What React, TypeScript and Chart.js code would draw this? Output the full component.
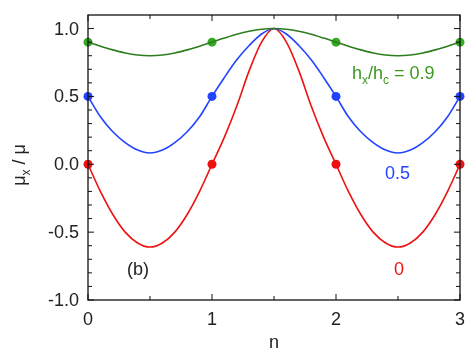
import React, { useEffect, useRef } from "react";
import { Chart, registerables } from "chart.js";

Chart.register(...registerables);

const nValues = [0, 0.1, 0.2, 0.3, 0.4, 0.5, 0.6, 0.7, 0.8, 0.9, 1.0, 1.1, 1.2, 1.3, 1.4, 1.5, 1.6, 1.7, 1.8, 1.9, 2.0, 2.1, 2.2, 2.3, 2.4, 2.5, 2.6, 2.7, 2.8, 2.9, 3.0];
const redValues = [0, -0.2, -0.37, -0.5, -0.58, -0.61, -0.58, -0.5, -0.37, -0.2, 0, 0.2, 0.43, 0.69, 0.9, 1.0, 0.9, 0.69, 0.43, 0.2, 0, -0.2, -0.37, -0.5, -0.58, -0.61, -0.58, -0.5, -0.37, -0.2, 0];
const blueValues = [0.5, 0.35, 0.24, 0.16, 0.105, 0.083, 0.105, 0.16, 0.24, 0.35, 0.5, 0.64, 0.77, 0.875, 0.96, 1.0, 0.96, 0.875, 0.77, 0.64, 0.5, 0.35, 0.24, 0.16, 0.105, 0.083, 0.105, 0.16, 0.24, 0.35, 0.5];
const greenValues = [0.9, 0.87, 0.843, 0.82, 0.805, 0.8, 0.805, 0.82, 0.843, 0.87, 0.9, 0.93, 0.958, 0.98, 0.995, 1.0, 0.995, 0.98, 0.958, 0.93, 0.9, 0.87, 0.843, 0.82, 0.805, 0.8, 0.805, 0.82, 0.843, 0.87, 0.9];

const dotN = [0, 1, 2, 3];
const redDots = [0, 0, 0, 0];
const blueDots = [0.5, 0.5, 0.5, 0.5];
const greenDots = [0.9, 0.9, 0.9, 0.9];

const xTickLabels = [0, 1, 2, 3];
const xMinorTicks = [0.5, 1.5, 2.5];
const yTickLabels = [-1.0, -0.5, 0.0, 0.5, 1.0];
const yMinorTicks = [-0.9, -0.8, -0.7, -0.6, -0.4, -0.3, -0.2, -0.1, 0.1, 0.2, 0.3, 0.4, 0.6, 0.7, 0.8, 0.9];

const RED = "#ee1111";
const BLUE = "#2244ff";
const GREEN_LINE = "#2e7d1e";
const GREEN_DOT = "#33aa22";
const GREEN_TEXT = "#3a9a1e";
const FONT = "Liberation Sans, Arial, sans-serif";

const pts = (xs: number[], ys: number[]) => xs.map((x, i) => ({ x, y: ys[i] }));

export default function App() {
  const ref = useRef<HTMLCanvasElement | null>(null);
  useEffect(() => {
    const canvas = ref.current;
    if (!canvas) return;
    const lineDs = (label: string, ys: number[], color: string) => ({
      label,
      data: pts(nValues, ys),
      borderColor: color,
      backgroundColor: color,
      borderWidth: 1.6,
      pointRadius: 0,
      cubicInterpolationMode: "monotone" as const,
      showLine: true,
    });
    const dotDs = (label: string, ys: number[], color: string) => ({
      label,
      data: pts(dotN, ys),
      borderColor: color,
      backgroundColor: color,
      pointRadius: 4.5,
      pointBorderWidth: 0,
      showLine: false,
      clip: false as const,
    });

    const overlay = {
      id: "overlay",
      afterDraw(chart: any) {
        const ctx = chart.ctx;
        const xs = chart.scales.x;
        const ys = chart.scales.y;
        const { left, right, top, bottom } = chart.chartArea;
        ctx.save();
        ctx.strokeStyle = "#111";
        ctx.lineWidth = 1.3;
        ctx.strokeRect(left, top, right - left, bottom - top);
        ctx.lineWidth = 1;
        const tick = (x1: number, y1: number, x2: number, y2: number) => {
          ctx.beginPath();
          ctx.moveTo(x1, y1);
          ctx.lineTo(x2, y2);
          ctx.stroke();
        };
        xTickLabels.forEach((v) => {
          const px = xs.getPixelForValue(v);
          tick(px, bottom, px, bottom - 6);
          tick(px, top, px, top + 6);
        });
        xMinorTicks.forEach((v) => {
          const px = xs.getPixelForValue(v);
          tick(px, bottom, px, bottom - 4);
          tick(px, top, px, top + 4);
        });
        yTickLabels.forEach((v) => {
          const py = ys.getPixelForValue(v);
          tick(left, py, left + 6, py);
          tick(right, py, right - 6, py);
        });
        yMinorTicks.forEach((v) => {
          const py = ys.getPixelForValue(v);
          tick(left, py, left + 4, py);
          tick(right, py, right - 4, py);
        });

        // tick labels
        ctx.fillStyle = "#222";
        ctx.font = `18px ${FONT}`;
        ctx.textAlign = "right";
        ctx.textBaseline = "middle";
        yTickLabels.forEach((v) => {
          ctx.fillText(v.toFixed(1), left - 9, ys.getPixelForValue(v) + 1);
        });
        ctx.textAlign = "center";
        ctx.textBaseline = "top";
        xTickLabels.forEach((v) => {
          ctx.fillText(String(v), xs.getPixelForValue(v), bottom + 11);
        });
        // x title
        ctx.textBaseline = "alphabetic";
        ctx.fillText("n", (left + right) / 2, 348);

        // y title rotated: μx / μ
        ctx.save();
        ctx.translate(25, 165);
        ctx.rotate(-Math.PI / 2);
        ctx.textAlign = "left";
        ctx.textBaseline = "alphabetic";
        const mu = "\u03bc";
        ctx.font = `18px ${FONT}`;
        const w1 = ctx.measureText(mu).width;
        ctx.font = `12px ${FONT}`;
        const wx = ctx.measureText("x").width;
        ctx.font = `18px ${FONT}`;
        const w2 = ctx.measureText(" / " + mu).width;
        let x = -(w1 + wx + w2) / 2;
        ctx.fillText(mu, x, 0);
        x += w1;
        ctx.font = `12px ${FONT}`;
        ctx.fillText("x", x, 5);
        x += wx;
        ctx.font = `18px ${FONT}`;
        ctx.fillText(" / " + mu, x, 0);
        ctx.restore();

        // annotations
        ctx.textAlign = "left";
        ctx.textBaseline = "alphabetic";
        ctx.fillStyle = "#222";
        ctx.font = `18px ${FONT}`;
        ctx.fillText("(b)", 127, 275);
        ctx.fillStyle = RED;
        ctx.fillText("0", 394, 275);
        ctx.fillStyle = BLUE;
        ctx.fillText("0.5", 385, 179);
        ctx.fillStyle = GREEN_TEXT;
        let gx = 352;
        const gy = 79;
        ctx.fillText("h", gx, gy);
        gx += ctx.measureText("h").width;
        ctx.font = `12px ${FONT}`;
        ctx.fillText("x", gx, gy + 5);
        gx += ctx.measureText("x").width;
        ctx.font = `18px ${FONT}`;
        ctx.fillText("/h", gx, gy);
        gx += ctx.measureText("/h").width;
        ctx.font = `12px ${FONT}`;
        ctx.fillText("c", gx, gy + 5);
        gx += ctx.measureText("c").width;
        ctx.font = `18px ${FONT}`;
        ctx.fillText(" = 0.9", gx, gy);
        ctx.restore();
      },
    };

    const chart = new Chart(canvas, {
      type: "scatter",
      data: {
        datasets: [
          lineDs("0.9", greenValues, GREEN_LINE),
          lineDs("0.5", blueValues, BLUE),
          lineDs("0", redValues, RED),
          dotDs("0.9 dots", greenDots, GREEN_DOT),
          dotDs("0.5 dots", blueDots, BLUE),
          dotDs("0 dots", redDots, RED),
        ],
      },
      options: {
        animation: false,
        responsive: false,
        devicePixelRatio: 1,
        layout: { padding: { left: 0, right: 11, top: 15, bottom: 0 } },
        plugins: { legend: { display: false }, tooltip: { enabled: false } },
        scales: {
          x: {
            type: "linear",
            min: 0,
            max: 3,
            grid: { display: false, drawTicks: false },
            border: { display: false },
            ticks: { display: false },
            afterFit: (s: any) => {
              s.height = 56;
            },
          },
          y: {
            type: "linear",
            min: -1,
            max: 1.1,
            grid: { display: false, drawTicks: false },
            border: { display: false },
            ticks: { display: false },
            afterFit: (s: any) => {
              s.width = 88;
            },
          },
        },
      },
      plugins: [overlay],
    });
    return () => chart.destroy();
  }, []);
  return (
    <div style={{ position: "absolute", left: 0, top: 0, width: 471, height: 356, background: "#fff" }}>
      <canvas ref={ref} width={471} height={356} style={{ display: "block" }} />
    </div>
  );
}
